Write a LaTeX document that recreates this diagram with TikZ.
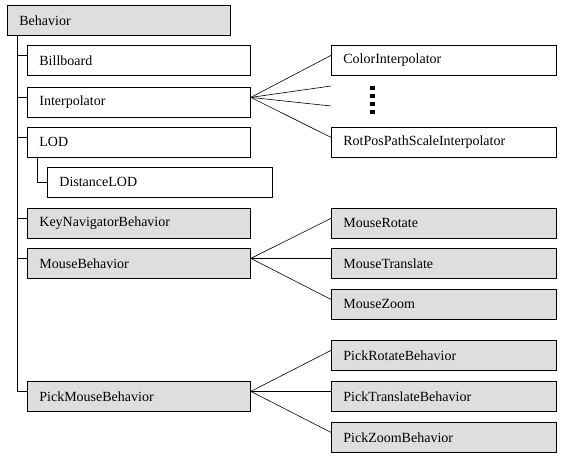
\documentclass[tikz,border=0pt]{standalone}
\usepackage{fontspec}
\setmainfont{Liberation Serif}
\definecolor{classgray}{gray}{0.87}

\tikzset{
  cls/.style={draw, line width=0.8pt, anchor=north west,
    minimum width=223pt, minimum height=30pt, text width=199pt,
    inner xsep=12pt, align=left, font=\fontsize{14}{16}\selectfont},
  widecls/.style={cls, minimum width=225pt, text width=201pt},
  util/.style={fill=classgray},
  link/.style={line width=0.6pt},
}

\begin{document}
\begin{tikzpicture}[x=1pt, y=-1pt]
    \useasboundingbox (0,0) rectangle (567,460);

    % left column
    \node [cls, util] (beh) at (7,5) {Behavior};
    \node [cls] (bill) at (27,45) {Billboard};
    \node [cls] (interp) at (27,87) {Interpolator};
    \node [cls] (lod) at (27,127) {LOD};
    \node [widecls] (dlod) at (47,167) {DistanceLOD};
    \node [cls, util] (keynav) at (27,208) {KeyNavigatorBehavior};
    \node [cls, util] (mouse) at (27,248) {MouseBehavior};
    \node [cls, util] (pick) at (27,381) {PickMouseBehavior};

    % right column
    \node [widecls] (colint) at (331,45) {ColorInterpolator};
    \node [widecls] (rotpos) at (331,127) {RotPosPathScaleInterpolator};
    \node [widecls, util] (mrot) at (331,208) {MouseRotate};
    \node [widecls, util] (mtrans) at (331,248) {MouseTranslate};
    \node [widecls, util] (mzoom) at (331,289) {MouseZoom};
    \node [widecls, util] (prot) at (331,340) {PickRotateBehavior};
    \node [widecls, util] (ptrans) at (331,381) {PickTranslateBehavior};
    \node [widecls, util] (pzoom) at (331,422) {PickZoomBehavior};

    \coordinate (more1) at (331,86);
    \coordinate (more2) at (331,106);
    \foreach \y in {88,96,104,112}
        \fill (372.5,\y) +(-2.5,-2) rectangle +(2.5,2);

    % tree
    \draw [link] (beh.south west) ++(10,0) |- ([yshift=5pt]pick.west);
    \foreach \n in {bill,interp,lod,keynav,mouse}
        \draw [link] ([yshift=5pt]\n.west) -- ++(-10,0);
    \draw [link] (lod.south west) ++(10,0) |- (dlod.west);

    \foreach \n in {colint,rotpos}
        \draw [link] ([yshift=5pt]interp.east) -- ([yshift=5pt]\n.west);
    \draw [link] ([yshift=5pt]interp.east) -- (more1);
    \draw [link] ([yshift=5pt]interp.east) -- (more2);
    \foreach \n in {mrot,mtrans,mzoom}
        \draw [link] ([yshift=5pt]mouse.east) -- ([yshift=5pt]\n.west);
    \foreach \n in {prot,ptrans,pzoom}
        \draw [link] ([yshift=5pt]pick.east) -- ([yshift=5pt]\n.west);
\end{tikzpicture}
\end{document}
